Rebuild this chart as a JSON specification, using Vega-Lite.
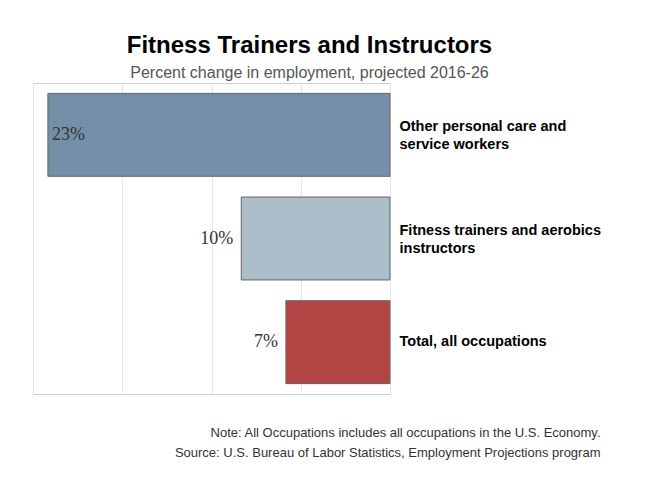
{
  "$schema": "https://vega.github.io/schema/vega-lite/v6.json",
  "width": 357,
  "height": 311,
  "autosize": {"type": "none"},
  "padding": {"left": 33, "top": 83, "right": 261, "bottom": 94},
  "background": "white",
  "title": {
    "text": "Fitness Trainers and Instructors",
    "subtitle": "Percent change in employment, projected 2016-26",
    "anchor": "middle",
    "frame": "group",
    "dx": 98,
    "offset": 2,
    "font": "Liberation Sans",
    "fontSize": 24,
    "fontWeight": "bold",
    "color": "#000000",
    "subtitleFont": "Liberation Sans",
    "subtitleFontSize": 16,
    "subtitleColor": "#555555",
    "subtitlePadding": 7
  },
  "config": {
    "view": {"stroke": "#cfcfcf", "strokeWidth": 1}
  },
  "data": {
    "values": [
      {"occupation": "Other personal care and service workers", "pct": 23, "label": "23%", "group": "other"},
      {"occupation": "Fitness trainers and aerobics instructors", "pct": 10, "label": "10%", "group": "fitness"},
      {"occupation": "Total, all occupations", "pct": 7, "label": "7%", "group": "total"}
    ]
  },
  "encoding": {
    "y": {
      "field": "occupation",
      "type": "nominal",
      "sort": null,
      "scale": {"paddingInner": 0.2, "paddingOuter": 0.1},
      "axis": {
        "orient": "right",
        "title": null,
        "ticks": false,
        "domain": false,
        "grid": false,
        "labelAlign": "left",
        "labelBaseline": "middle",
        "labelPadding": 9,
        "labelOffset": {"condition": {"test": "datum.value == 'Total, all occupations'", "value": 0}, "value": -8},
        "labelFont": "Liberation Sans",
        "labelFontSize": 14.5,
        "labelFontWeight": "bold",
        "labelColor": "#000000",
        "labelLineHeight": 18,
        "labelLimit": 300,
        "labelExpr": "datum.value == 'Other personal care and service workers' ? ['Other personal care and', 'service workers'] : datum.value == 'Fitness trainers and aerobics instructors' ? ['Fitness trainers and aerobics', 'instructors'] : datum.value"
      }
    },
    "x": {
      "field": "pct",
      "type": "quantitative",
      "scale": {"domain": [0, 24], "reverse": true, "nice": false},
      "axis": {
        "values": [0, 6, 12, 18, 24],
        "labels": false,
        "ticks": false,
        "domain": false,
        "grid": true,
        "gridColor": "#e6e6e6",
        "gridWidth": 1,
        "title": ["Note: All Occupations includes all occupations in the U.S. Economy.", "Source: U.S. Bureau of Labor Statistics, Employment Projections program"],
        "titleAlign": "right",
        "titleBaseline": "alphabetic",
        "titleX": 567,
        "titleY": 42,
        "titleFont": "Liberation Sans",
        "titleFontSize": 13,
        "titleFontWeight": "normal",
        "titleColor": "#333333",
        "titleLineHeight": 20
      }
    }
  },
  "layer": [
    {
      "mark": {"type": "bar", "stroke": "#666666", "strokeWidth": 1},
      "encoding": {
        "color": {
          "field": "group",
          "type": "nominal",
          "scale": {"domain": ["other", "fitness", "total"], "range": ["#7390a8", "#adbecb", "#b54444"]},
          "legend": null
        }
      }
    },
    {
      "transform": [{"filter": "datum.pct < 20"}],
      "mark": {"type": "text", "align": "right", "baseline": "middle", "dx": -8, "font": "Liberation Serif", "fontSize": 18, "color": "#333333"},
      "encoding": {"text": {"field": "label"}}
    },
    {
      "transform": [{"filter": "datum.pct >= 20"}],
      "mark": {"type": "text", "align": "left", "baseline": "middle", "dx": 4, "font": "Liberation Serif", "fontSize": 18, "color": "#333333"},
      "encoding": {"text": {"field": "label"}}
    }
  ]
}
